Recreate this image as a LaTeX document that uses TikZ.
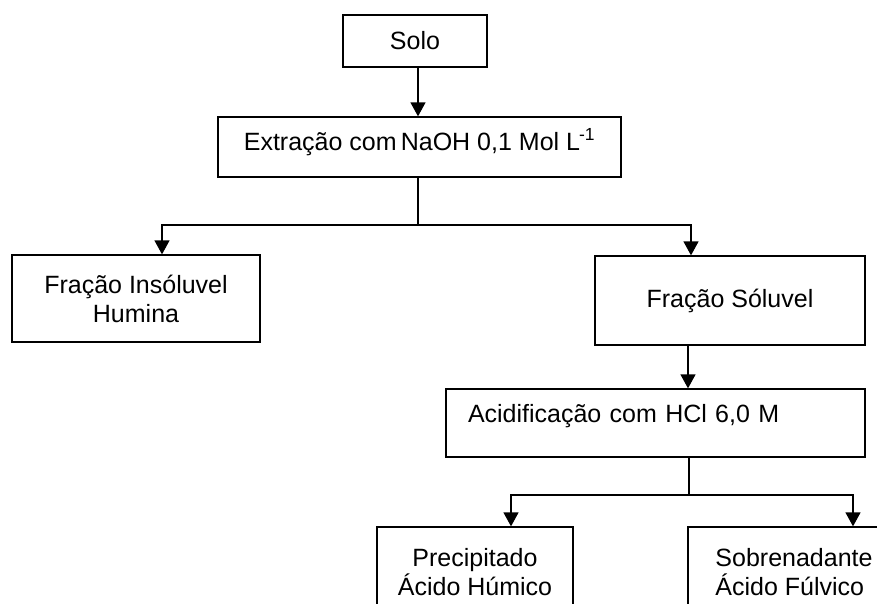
\documentclass[tikz,border=0pt]{standalone}
\usepackage{fontspec}
\setmainfont{Liberation Sans}
\usetikzlibrary{arrows.meta}

\begin{document}
\begin{tikzpicture}[x=1pt, y=-1pt, line width=1.3pt, >={Triangle[length=14pt,width=15pt]},
    caixa/.style={draw, inner sep=0pt, align=center, font=\fontsize{25}{29}\selectfont}]
\useasboundingbox (0,0) rectangle (877,603);
\clip (0,0) rectangle (877,603);

\node[caixa, minimum width=144pt, minimum height=52pt](solo) at (415,41) {Solo};
\node[caixa, minimum width=403pt, minimum height=60pt, text height=18pt, text depth=12pt](extr) at (419.5,147)
    {Extração com\,NaOH 0,1 Mol L\kern-1pt\textsuperscript{-1}};
\node[caixa, minimum width=248pt, minimum height=87pt](hum) at (136,298.5) {Fração Insóluvel\\Humina};
\node[caixa, minimum width=270pt, minimum height=89pt](sol) at (730,300.5) {Fração Sóluvel};
\node[caixa, inner xsep=22pt, text width=375pt, align=left, minimum height=68pt, text height=18pt, text depth=20pt](acid) at (655.5,423)
    {Acidificação com HCl 6,0 M};
\node[caixa, minimum width=196pt, minimum height=91pt](hum2) at (475,572.5) {Precipitado\\Ácido Húmico};
\node[caixa, minimum width=212pt, minimum height=91pt, align=left](fulv) at (794,572.5) {Sobrenadante\\Ácido Fúlvico};

\coordinate (ram1) at (418,225);
\coordinate (ram2) at (689,495);

\draw[->](418,0 |- solo.south)--(418,0 |- extr.north);
\draw(418,0 |- extr.south)--(ram1);
\draw[->](ram1)-|(162,0 |- hum.north);
\draw[->](ram1)-|(691,0 |- sol.north);
\draw[->](688,0 |- sol.south)--(688,0 |- acid.north);
\draw(ram2 |- acid.south)--(ram2);
\foreach \x/\no in {511/hum2, 853/fulv}
{
    \draw[->](ram2)-|(\x,0 |- \no.north);
}
\end{tikzpicture}
\end{document}
